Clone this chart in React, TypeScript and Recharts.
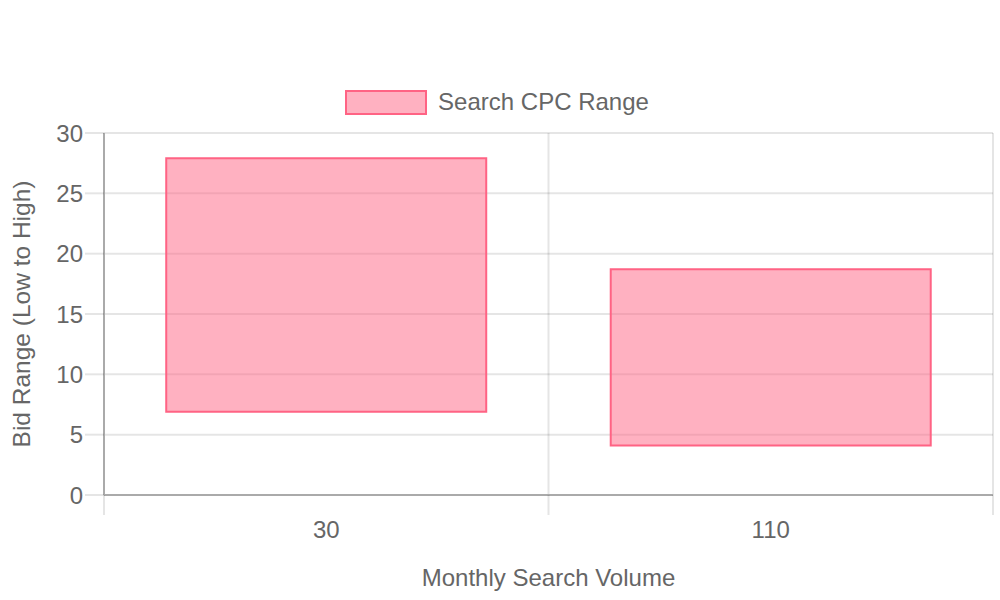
import React from 'react';
import { BarChart, Bar, XAxis, YAxis, CartesianGrid } from 'recharts';

// monthly search volume buckets and their low / high CPC bids
const volumes = ['30', '110'];
const lowBids = [6.9, 4.1];
const highBids = [27.9, 18.7];
const yTicks = [0, 5, 10, 15, 20, 25, 30];

const chartData = volumes.map((v, i) => ({
  volume: v,
  range: [lowBids[i], highBids[i]],
}));

const TEXT = '#666666';
const GRID = 'rgba(0,0,0,0.1)';
const AXIS = '#aaaaaa';
const FILL = 'rgba(255, 99, 132, 0.5)';
const BORDER = 'rgb(255, 99, 132)';
const X_TICK_LEN = 20;
const X_TICK_GAP = 6;

function YTitle(props: any) {
  const vb = props.viewBox || { x: 0, y: 0, height: 0 };
  const cx = vb.x + 30;
  const cy = vb.y + vb.height / 2;
  return (
    <text x={cx} y={cy} transform={`rotate(-90, ${cx}, ${cy})`} textAnchor="middle" fill={TEXT} fontSize={24.5}>
      Bid Range (Low to High)
    </text>
  );
}

function XTitle(props: any) {
  const vb = props.viewBox || { x: 0, y: 0, width: 0 };
  return (
    <text x={vb.x + vb.width / 2} y={vb.y + 91} textAnchor="middle" fill={TEXT} fontSize={24}>
      Monthly Search Volume
    </text>
  );
}

// grid lines sit on category boundaries, like a chart.js category scale with offset
const boundaryLines = ({ offset }: any) =>
  [0, ...volumes.map((_, i) => i + 1)].map((t) => offset.left + (offset.width * t) / volumes.length);

// category label plus the short boundary marks hanging under the axis
function CategoryTick(props: any) {
  const { x, y, width, index, visibleTicksCount, payload } = props;
  const band = width / visibleTicksCount;
  const top = y - X_TICK_LEN - X_TICK_GAP;
  const marks = [x - band / 2];
  if (index === visibleTicksCount - 1) marks.push(x + band / 2);
  return (
    <g>
      {marks.map((m, i) => (
        <line key={i} x1={m} x2={m} y1={top} y2={top + X_TICK_LEN} stroke={GRID} strokeWidth={2} />
      ))}
      <text x={x} y={y} dy="0.71em" textAnchor="middle" fill={TEXT} fontSize={24}>
        {payload.value}
      </text>
    </g>
  );
}

export default function App() {
  return (
    <div style={{ position: 'absolute', left: 0, top: 0, width: 1000, height: 600, fontFamily: '"Liberation Sans", Arial, sans-serif', background: '#fff' }}>
      <div style={{ position: 'absolute', top: 88, left: -3, width: 1000, display: 'flex', justifyContent: 'center', alignItems: 'center', gap: 11 }}>
        <span style={{ width: 82, height: 25, boxSizing: 'border-box', background: FILL, border: `2px solid ${BORDER}` }} />
        <span style={{ color: TEXT, fontSize: 24 }}>Search CPC Range</span>
      </div>
      <BarChart
        width={1000}
        height={600}
        data={chartData}
        margin={{ top: 133, right: 7, bottom: 0, left: 0 }}
        barCategoryGap="14%"
      >
        <CartesianGrid stroke={GRID} strokeWidth={2} verticalCoordinatesGenerator={boundaryLines} />
        <XAxis
          dataKey="volume"
          height={105}
          tickLine={false}
          tickSize={X_TICK_LEN}
          tickMargin={X_TICK_GAP}
          axisLine={{ stroke: AXIS, strokeWidth: 2 }}
          tick={<CategoryTick />}
          label={<XTitle />}
        />
        <YAxis
          width={104}
          domain={[0, 30]}
          ticks={yTicks}
          tickSize={19}
          tickMargin={2}
          tickLine={{ stroke: GRID, strokeWidth: 2 }}
          axisLine={{ stroke: AXIS, strokeWidth: 2 }}
          tick={{ fill: TEXT, fontSize: 24 }}
          label={<YTitle />}
        />
        <Bar
          dataKey="range"
          fill={FILL}
          stroke={BORDER}
          strokeWidth={2}
          isAnimationActive={false}
        />
      </BarChart>
    </div>
  );
}
